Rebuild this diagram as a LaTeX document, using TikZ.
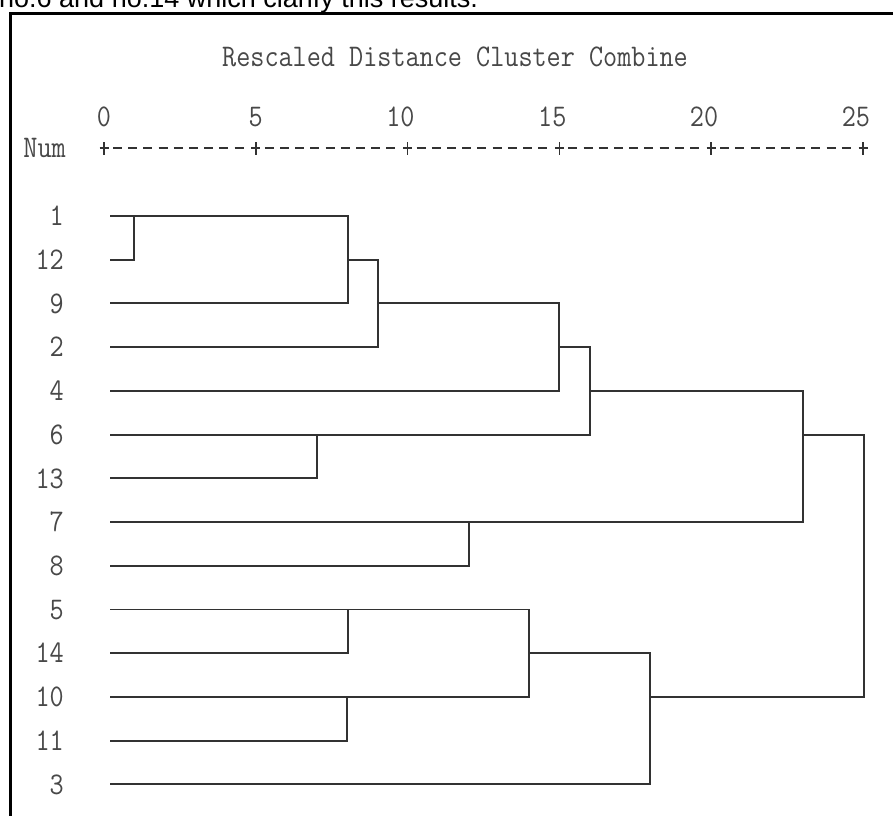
\documentclass[tikz,border=0pt]{standalone}
\usepackage{fontspec}
\usepackage{graphicx}
\newfontfamily\capfont{Liberation Sans}
\definecolor{txtgray}{RGB}{72,72,72}
\definecolor{linegray}{RGB}{50,50,50}
\newcommand{\tallt}[1]{\scalebox{1}[1.15]{#1}}
\tikzset{
  monotext/.style={inner sep=0pt, text=txtgray, font=\ttfamily\fontsize{27.4}{30}\selectfont},
  rowlbl/.style={monotext, anchor=base east},
  ticklbl/.style={monotext, anchor=base east},
  link/.style={draw=linegray, line width=1.9pt, line join=miter, line cap=rect},
  framebar/.style={draw=black, line width=3pt},
  axisdash/.style={draw=linegray, line width=1.6pt, dash pattern=on 9pt off 6.2pt},
  plusmark/.style={draw=linegray, line width=1.6pt}
}
\begin{document}
\begin{tikzpicture}[x=1pt,y=-1pt]
\useasboundingbox (0,0) rectangle (893,815);
\fill[white] (0,0) rectangle (893,815);
% caption line cut by the page top
\node[anchor=base west, inner sep=0pt, font=\capfont\fontsize{27}{30}\selectfont] (cap) at (-1,7.5) {no.6 and no.14 which clarify this results.};
% frame
\coordinate (fTL) at (10.5,13);
\coordinate (fTR) at (900,13);
\coordinate (fBL) at (10.5,830);
\draw[framebar] (fBL) -- (fTL) -- (fTR);
% title
\node[monotext] (title) at (455,57) {\tallt{Rescaled Distance Cluster Combine}};
% axis
\foreach \k/\v in {0/0,1/5,2/10,3/15,4/20,5/25}{
  \pgfmathsetmacro{\tx}{104+151.8*\k}
  \coordinate (t\k) at (\tx,148);
  \node[ticklbl] (tl\k) at (\tx+7.2,126.5) {\tallt{\v}};
  \draw[plusmark] ([xshift=-4.5pt]t\k) -- ([xshift=4.5pt]t\k);
  \draw[plusmark] ([yshift=-6.5pt]t\k) -- ([yshift=6.5pt]t\k);
}
\foreach \k in {0,...,4}{
  \pgfmathtruncatemacro{\kn}{\k+1}
  \draw[axisdash] ([xshift=9pt]t\k) -- ([xshift=-7pt]t\kn);
}
\node[rowlbl] (num) at (66,157.6) {\tallt{Num}};
% leaves
\foreach \lab/\r [count=\i from 0] in {1/216.0,12/259.7,9/303.4,2/347.2,4/390.9,6/434.6,13/478.3,7/522.0,8/565.8,5/609.5,14/653.2,10/696.9,11/740.6,3/784.4}{
  \node[rowlbl] (n\lab) at (64,\r+9.7) {\tallt{\lab}};
  \coordinate (L\lab) at (111,\r);
}
% merge points
\coordinate (a1) at (134.3,216.0); \coordinate (a2) at (134.3,259.7);
\coordinate (b1) at (348.3,216.0); \coordinate (b2) at (348.3,303.4); \coordinate (bc) at (348.3,259.7);
\coordinate (c1) at (378.3,259.7); \coordinate (c2) at (378.3,347.2); \coordinate (cc) at (378.3,303.4);
\coordinate (d1) at (559.3,303.4); \coordinate (d2) at (559.3,390.9); \coordinate (dc) at (559.3,347.2);
\coordinate (e1) at (316.7,434.6); \coordinate (e2) at (316.7,478.3);
\coordinate (f1) at (590,347.2); \coordinate (f2) at (590,434.6); \coordinate (fc) at (590,390.9);
\coordinate (g1) at (469.3,522.0); \coordinate (g2) at (469.3,565.8);
\coordinate (h1) at (803.3,390.9); \coordinate (h2) at (803.3,522.0); \coordinate (hc) at (803.3,434.6);
\coordinate (i1) at (347.7,609.5); \coordinate (i2) at (347.7,653.2);
\coordinate (j1) at (346.7,696.9); \coordinate (j2) at (346.7,740.6);
\coordinate (k1) at (529.3,609.5); \coordinate (k2) at (529.3,696.9); \coordinate (kc) at (529.3,653.2);
\coordinate (l1) at (650,653.2); \coordinate (l2) at (650,784.4); \coordinate (lc) at (650,696.9);
\coordinate (m1) at (864,434.6); \coordinate (m2) at (864,696.9);
% links
\draw[link] (L1) -- (a1) -- (a2) -- (L12);
\draw[link] (a1) -- (b1) -- (b2) -- (L9);
\draw[link] (bc) -- (c1) -- (c2) -- (L2);
\draw[link] (cc) -- (d1) -- (d2) -- (L4);
\draw[link] (L6) -- (e1) -- (e2) -- (L13);
\draw[link] (dc) -- (f1) -- (f2) -- (e1);
\draw[link] (L7) -- (g1) -- (g2) -- (L8);
\draw[link] (fc) -- (h1) -- (h2) -- (g1);
\draw[link] (L5) -- (i1) -- (i2) -- (L14);
\draw[link] (L10) -- (j1) -- (j2) -- (L11);
\draw[link] (i1) -- (k1) -- (k2) -- (j1);
\draw[link] (kc) -- (l1) -- (l2) -- (L3);
\draw[link] (hc) -- (m1) -- (m2) -- (lc);
\end{tikzpicture}
\end{document}
